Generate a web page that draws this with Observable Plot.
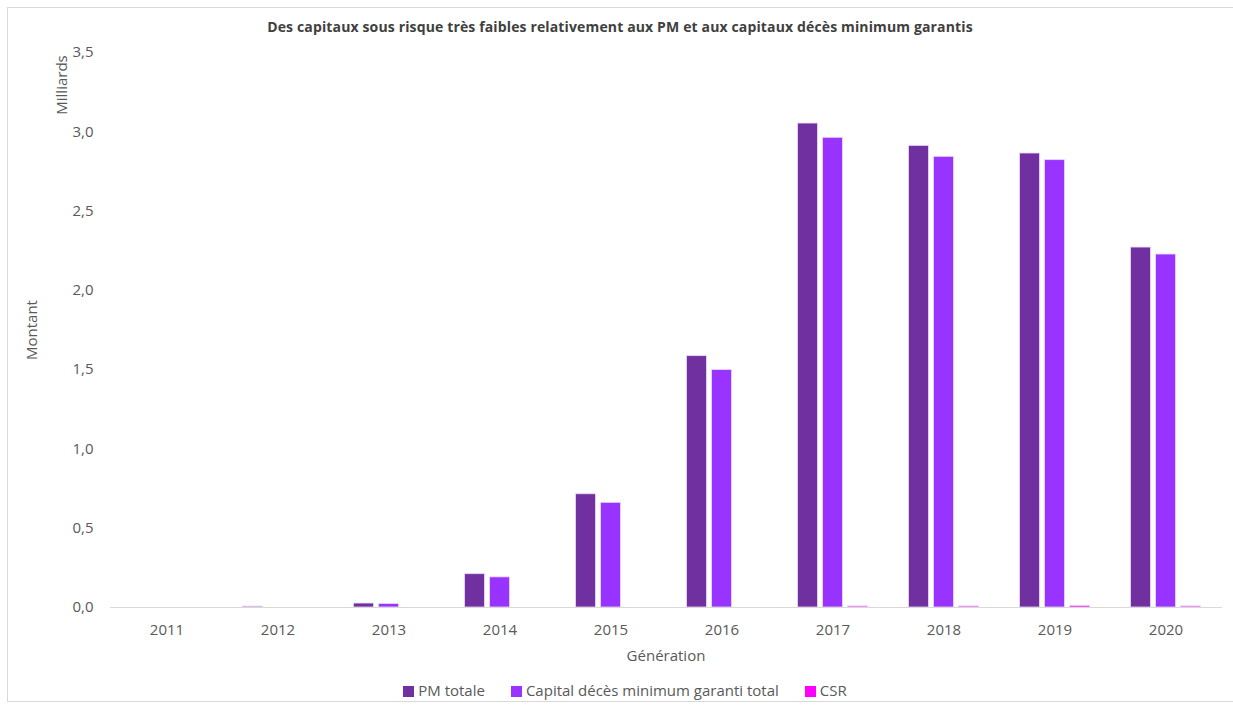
<!DOCTYPE html>
<html>
<head>
<meta charset="utf-8">
<script src="https://cdn.jsdelivr.net/npm/d3@7"></script>
<script src="https://cdn.jsdelivr.net/npm/@observablehq/plot@0.6"></script>
<style>
  html, body { margin: 0; padding: 0; background: #fff; }
  #wrap { position: relative; width: 1233px; height: 705px; overflow: hidden; font-family: "Open Sans", Lato, sans-serif; color: #595959; }
  #frame { position: absolute; left: 7px; top: 7px; width: 1240px; height: 695px; border: 1px solid #d9d9d9; box-sizing: border-box; }
  #title { position: absolute; left: 0; top: 17px; width: 1240px; text-align: center; font-weight: bold; font-size: 14px; color: #404040; letter-spacing: 0.14px; }
  .rot { position: absolute; transform: translate(-50%, -50%) rotate(-90deg); font-size: 15px; color: #595959; white-space: nowrap; }
  #xlabel { position: absolute; left: 666px; top: 655px; transform: translate(-50%, -50%); font-size: 15px; white-space: nowrap; }
  #legend { position: absolute; top: 680px; left: 0; width: 1250px; display: flex; justify-content: center; gap: 26px; font-size: 15px; }
  #legend span.sw { display: inline-block; width: 11px; height: 11px; margin-right: 4px; vertical-align: -1px; }
  #chart { position: absolute; left: 0; top: 0; }
</style>
</head>
<body>
<div id="wrap">
  <div id="frame"></div>
  <div id="chart"></div>
  <div id="title">Des capitaux sous risque très faibles relativement aux PM et aux capitaux décès minimum garantis</div>
  <div class="rot" style="left:61px; top:85px;">Milliards</div>
  <div class="rot" style="left:31px; top:330px;">Montant</div>
  <div id="xlabel">Génération</div>
  <div id="legend"></div>
</div>
<script>
const years = ["2011","2012","2013","2014","2015","2016","2017","2018","2019","2020"];
const seriesNames = ["PM totale", "Capital décès minimum garanti total", "CSR"];
const seriesColors = ["#7030a0", "#9933ff", "#ff00ff"];
const pmTotale     = [0, 0.006, 0.025, 0.21, 0.714, 1.585, 3.052, 2.911, 2.863, 2.270];
const capitalDeces = [0, 0,     0.022, 0.19, 0.660, 1.497, 2.962, 2.842, 2.821, 2.226];
const csr          = [0, 0,     0,     0,    0,     0,     0.007, 0.007, 0.010, 0.007];
const yTicks = [0, 0.5, 1, 1.5, 2, 2.5, 3, 3.5];

const seriesValues = [pmTotale, capitalDeces, csr];
const barWidth = 20, barStep = 25, bandWidth = (1222 - 110) / years.length;
const inset = (bandWidth - barWidth) / 2;

const marks = seriesValues.map((vals, i) =>
  Plot.barY(years.map((yr, j) => ({year: yr, value: vals[j], series: seriesNames[i]})), {
    x: "year", y: "value", fill: seriesColors[i],
    stroke: "#ead6fb", strokeWidth: 0.8,
    insetLeft: inset, insetRight: inset, dx: (i - 1) * barStep
  })
);

const chart = Plot.plot({
  width: 1233, height: 705,
  marginLeft: 110, marginRight: 11, marginTop: 52, marginBottom: 98,
  style: {fontFamily: "'Open Sans', Lato, sans-serif", fontSize: "15px", color: "#595959", background: "transparent"},
  x: {domain: years, padding: 0, tickSize: 0, tickPadding: 17, label: null},
  y: {domain: [0, 3.5], ticks: yTicks, tickSize: 0, tickPadding: 17, label: null,
      tickFormat: d => d.toFixed(1).replace(".", ",")},
  marks: [
    ...marks,
    Plot.ruleY([0], {stroke: "#d9d9d9", strokeWidth: 1})
  ]
});
document.getElementById("chart").appendChild(chart);

const legend = document.getElementById("legend");
seriesNames.forEach((name, i) => {
  const item = document.createElement("div");
  item.innerHTML = `<span class="sw" style="background:${seriesColors[i]}"></span>${name}`;
  legend.appendChild(item);
});
</script>
</body>
</html>
